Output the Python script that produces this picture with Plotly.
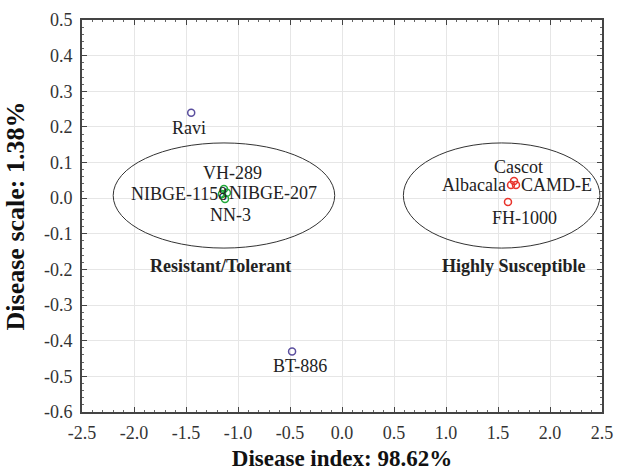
import plotly.graph_objects as go

names = ["Ravi", "BT-886", "VH-289", "NIBGE-1158", "NIBGE-207", "NN-3",
         "Cascot", "Albacala", "CAMD-E", "FH-1000"]
disease_index = [-1.45, -0.48, -1.135, -1.154, -1.106, -1.125, 1.654, 1.625, 1.673, 1.596]
disease_scale = [0.24, -0.43, 0.026, 0.012, 0.015, -0.002, 0.048, 0.037, 0.037, -0.011]
groups = ["other", "other", "res", "res", "res", "res", "sus", "sus", "sus", "sus"]
group_colors = {"other": "#5a4e9e", "res": "#22a83a", "sus": "#e8332b"}

# label placement (anchor, shift)
label_pos = {
    "Ravi": ("center", "top", -2, -3),
    "BT-886": ("center", "top", 8, -3),
    "VH-289": ("center", "bottom", 9, 4),
    "NIBGE-1158": ("right", "middle", 7, 0),
    "NIBGE-207": ("left", "middle", 0, 0),
    "NN-3": ("center", "top", 5, -4),
    "Cascot": ("center", "bottom", 4, 2),
    "Albacala": ("right", "middle", -3, 0),
    "CAMD-E": ("left", "middle", 3, 0),
    "FH-1000": ("center", "top", 17, -4),
}

ellipses = [(-2.2, -0.07, -0.14, 0.155), (0.59, 2.48, -0.14, 0.155)]
group_labels = ["Resistant/Tolerant", "Highly Susceptible"]
group_label_x = [-1.17, 1.65]
group_label_y = [-0.19, -0.19]

x_ticks = [-2.5, -2.0, -1.5, -1.0, -0.5, 0.0, 0.5, 1.0, 1.5, 2.0, 2.5]
y_ticks = [0.5, 0.4, 0.3, 0.2, 0.1, 0.0, -0.1, -0.2, -0.3, -0.4, -0.5, -0.6]

SERIF = "Liberation Serif"

fig = go.Figure()
for g in ["other", "res", "sus"]:
    idx = [i for i, gg in enumerate(groups) if gg == g]
    fig.add_trace(go.Scatter(
        x=[disease_index[i] for i in idx], y=[disease_scale[i] for i in idx],
        mode="markers",
        marker=dict(symbol="circle-open", size=7, color=group_colors[g],
                    line=dict(width=1.5, color=group_colors[g])),
        showlegend=False, hoverinfo="skip"))

for n, x, y in zip(names, disease_index, disease_scale):
    xa, ya, xs, ys = label_pos[n]
    fig.add_annotation(x=x, y=y, text=n, showarrow=False, xanchor=xa, yanchor=ya,
                       xshift=xs, yshift=ys, font=dict(family=SERIF, size=18, color="#222"))

for (x0, x1, y0, y1) in ellipses:
    fig.add_shape(type="circle", x0=x0, x1=x1, y0=y0, y1=y1,
                  line=dict(color="#333", width=1))

for t, x, y in zip(group_labels, group_label_x, group_label_y):
    fig.add_annotation(x=x, y=y, text="<b>" + t + "</b>", showarrow=False,
                       font=dict(family=SERIF, size=18, color="#222"))

axis_common = dict(showgrid=True, gridcolor="#e6e6e6", gridwidth=1, zeroline=False,
                   showline=True, linecolor="#444", linewidth=2, mirror="allticks",
                   ticks="inside", ticklen=5, tickcolor="#444", automargin=False,
                   tickfont=dict(family=SERIF, size=18, color="#333"))

fig.update_xaxes(range=[-2.5, 2.5], tickvals=x_ticks,
                 ticktext=[f"{v:.1f}" for v in x_ticks],
                 ticklabelstandoff=3,
                 minor=dict(ticks="inside", ticklen=2, dtick=0.1, tickcolor="#666", showgrid=False),
                 title=dict(text="<b>Disease index: 98.62%</b>",
                            font=dict(family=SERIF, size=23, color="#111"), standoff=14),
                 **axis_common)
fig.update_yaxes(range=[-0.6, 0.5], tickvals=y_ticks,
                 ticktext=[f"{v:.1f}" for v in y_ticks],
                 ticklabelstandoff=4,
                 minor=dict(ticks="inside", ticklen=2, dtick=0.02, tickcolor="#666", showgrid=False),
                 title=dict(text="<b>Disease scale: 1.38%</b>",
                            font=dict(family=SERIF, size=26, color="#111"), standoff=12),
                 **axis_common)

fig.update_layout(width=618, height=471, margin=dict(l=82, r=16, t=20, b=59),
                  plot_bgcolor="white", paper_bgcolor="white",
                  font=dict(family=SERIF))

fig.write_html("out.html")
